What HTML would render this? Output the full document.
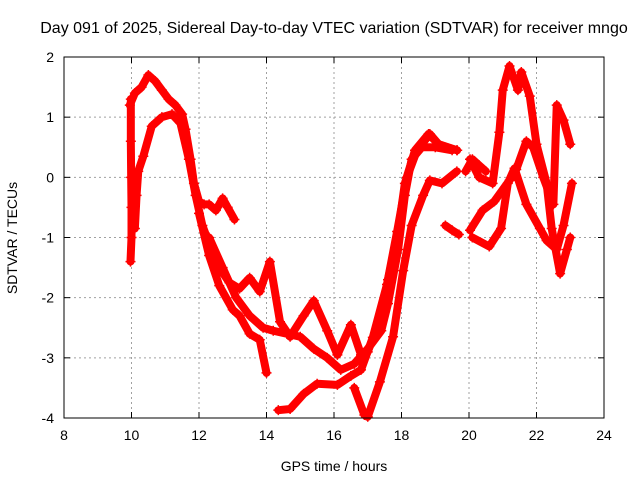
<!DOCTYPE html>
<html><head><meta charset="utf-8"><style>
body{margin:0;background:#fff;}
svg text{font-family:"Liberation Sans",sans-serif;font-size:14px;fill:#000;}
svg text.title{font-size:16px;}
</style></head><body>
<svg id="chart" width="640" height="480" xmlns="http://www.w3.org/2000/svg">
<rect width="640" height="480" fill="#fff"/>
<text class="title" x="334" y="33" text-anchor="middle">Day 091 of 2025, Sidereal Day-to-day VTEC variation (SDTVAR) for receiver mngo</text>
<text x="334" y="471" text-anchor="middle">GPS time / hours</text>
<text transform="translate(17,238) rotate(-90)" text-anchor="middle">SDTVAR / TECUs</text>
<g id="grid"></g><g id="marks"></g><g id="axes"></g>
</svg>
<script>
const xTicks=[8,10,12,14,16,18,20,22,24];
const yTicks=[2,1,0,-1,-2,-3,-4];
const traceA=[[9.95,1.2],[10.1,1.4],[10.3,1.5],[10.5,1.7],[10.7,1.6],[10.9,1.45],[11.1,1.3],[11.3,1.2],[11.5,1.05],[11.6,0.8],[11.75,0.3],[11.85,-0.1],[12.0,-0.4],[12.15,-0.45],[12.3,-0.45],[12.5,-0.55],[12.7,-0.35],[12.85,-0.5],[13.05,-0.7]];
const traceB=[[10.1,-0.85],[10.15,-0.3],[10.2,0.1],[10.35,0.35],[10.6,0.85],[10.9,1.0],[11.2,1.05],[11.45,0.9],[11.7,0.3],[11.9,-0.3],[12.1,-0.8],[12.3,-1.1],[12.6,-1.5],[12.9,-1.75],[13.2,-1.85],[13.5,-1.67],[13.8,-1.9],[14.1,-1.4],[14.4,-2.4],[14.7,-2.65],[15.1,-2.3],[15.4,-2.05],[15.8,-2.55],[16.1,-2.95],[16.5,-2.45],[16.8,-2.95],[17.0,-2.9],[17.4,-2.3],[17.6,-1.7],[17.9,-0.9],[18.1,-0.1],[18.4,0.45],[18.8,0.72],[19.1,0.55],[19.65,0.45]];
const traceC=[[9.98,1.3],[9.98,0.6],[9.99,0.0],[10.0,-0.5],[10.0,-1.0],[9.97,-1.4]];
const traceD=[[12.0,-0.6],[12.3,-1.3],[12.6,-1.8],[13.0,-2.2],[13.2,-2.3],[13.5,-2.6],[13.8,-2.7],[14.0,-3.25]];
const traceE=[[12.3,-1.0],[12.7,-1.5],[13.1,-2.0],[13.5,-2.3],[13.9,-2.5],[14.2,-2.55],[14.6,-2.6],[15.0,-2.65],[15.4,-2.85],[15.8,-3.0],[16.2,-3.2],[16.6,-3.1],[17.0,-2.85],[17.4,-2.55],[17.6,-2.1],[17.9,-1.2],[18.1,-0.3],[18.3,0.3],[18.6,0.5],[19.0,0.5],[19.5,0.45]];
const traceF=[[14.35,-3.87],[14.7,-3.85],[15.1,-3.6],[15.5,-3.43],[16.1,-3.45],[16.5,-3.3],[16.8,-3.2],[17.15,-2.66],[17.57,-1.78],[17.87,-0.9],[18.16,0.0],[18.46,0.45],[18.84,0.72],[19.1,0.55],[19.64,0.45]];
const traceG=[[16.6,-3.5],[16.9,-3.95],[17.0,-3.98],[17.36,-3.4],[17.75,-2.65],[18.05,-1.55],[18.3,-0.8],[18.64,-0.3],[18.84,-0.05],[19.2,-0.1],[19.64,0.1]];
const traceH=[[19.3,-0.8],[19.5,-0.88],[19.7,-0.95]];
const traceI=[[20.03,0.3],[20.3,0.0],[20.7,-0.1],[20.9,0.75],[21.0,1.45],[21.2,1.85],[21.45,1.45],[21.55,1.75],[21.8,1.35],[22.0,0.55],[22.3,-0.1],[22.45,-0.85],[22.7,-1.6],[22.9,-1.2],[23.0,-1.0]];
const traceJ=[[20.03,-0.88],[20.4,-0.55],[20.75,-0.4],[21.2,-0.05],[21.4,0.13],[21.7,0.6],[21.9,0.5],[22.2,0.0],[22.5,-0.45],[22.6,1.2],[22.8,0.95],[23.0,0.55]];
const traceK=[[20.1,-1.0],[20.6,-1.15],[20.95,-0.85],[21.15,-0.1],[21.35,0.15],[21.7,-0.45],[22.1,-0.85],[22.3,-1.05],[22.6,-1.2],[22.8,-0.8],[23.05,-0.1]];
const traceL=[[19.9,0.1],[20.1,0.3],[20.3,0.2],[20.5,0.1]];
const traces=[traceA,traceB,traceC,traceD,traceE,traceF,traceG,traceH,traceI,traceJ,traceK,traceL];

const L=64,R=604,T=57,B=418;
function xs(h){return L+(h-8)/16*(R-L);}
function ys(v){return T+(2-v)/6*(B-T);}
const NS="http://www.w3.org/2000/svg";
function mk(tag,attrs,parent){const e=document.createElementNS(NS,tag);for(const k in attrs)e.setAttribute(k,attrs[k]);parent.appendChild(e);return e;}
const grid=document.getElementById('grid'),marks=document.getElementById('marks'),axes=document.getElementById('axes');
xTicks.forEach(t=>{
  const x=xs(t);
  if(t>8&&t<24){const g=mk('line',{x1:x,x2:x,y1:T,y2:B,stroke:'#a0a0a0','stroke-dasharray':'2,3'},grid);
  
  }
  mk('line',{x1:x,x2:x,y1:B,y2:B-6,stroke:'#000'},axes);
  mk('line',{x1:x,x2:x,y1:T,y2:T+6,stroke:'#000'},axes);
  const tx=mk('text',{x:x,y:B+22,'text-anchor':'middle'},axes);tx.textContent=t;
  
  
});
yTicks.forEach(t=>{
  const y=ys(t);
  if(t<2&&t>-4){const g=mk('line',{x1:L,x2:R,y1:y,y2:y,stroke:'#a0a0a0','stroke-dasharray':'2,3'},grid);
  
  }
  mk('line',{x1:L,x2:L+6,y1:y,y2:y,stroke:'#000'},axes);
  mk('line',{x1:R,x2:R-6,y1:y,y2:y,stroke:'#000'},axes);
  const tx=mk('text',{x:L-10,y:y+5,'text-anchor':'end'},axes);tx.textContent=t;
  
  
});
const frame=mk('rect',{x:L,y:T,width:R-L,height:B-T,fill:'none',stroke:'#000'},axes);


traces.forEach((tr,i)=>{
  const pl=mk('polyline',{points:tr.map(p=>xs(p[0])+','+ys(p[1])).join(' '),fill:'none',stroke:'#ff0000','stroke-width':8,'stroke-linejoin':'round','stroke-linecap':'round'},marks);
  
  
  tr.forEach(p=>{
    const x=xs(p[0]),y=ys(p[1]);
    const m=mk('path',{d:`M${x-5},${y}H${x+5}M${x},${y-5}V${y+5}`,stroke:'#ff0000','stroke-width':1.5},marks);
    
    
  });
});
</script>
</body></html>
